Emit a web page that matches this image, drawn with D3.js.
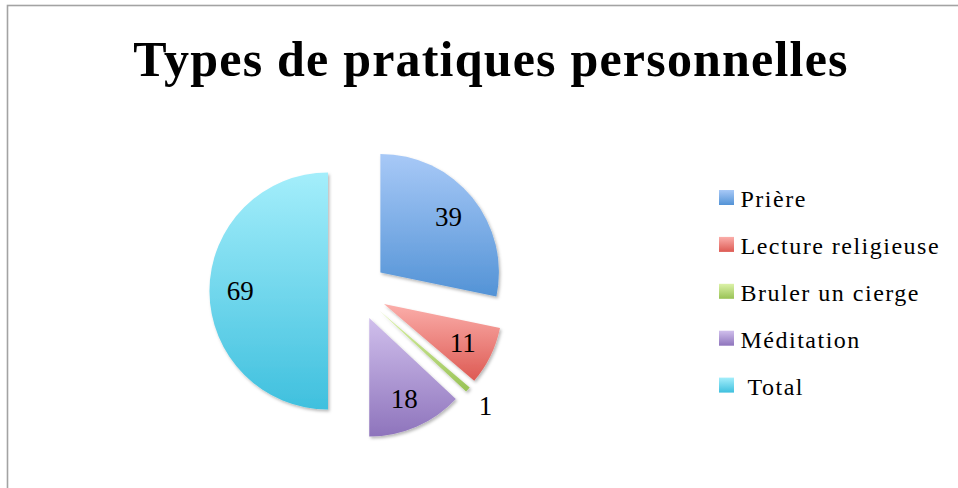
<!DOCTYPE html>
<html>
<head>
<meta charset="utf-8">
<script src="https://cdn.jsdelivr.net/npm/d3@7"></script>
<style>
  html, body { margin: 0; padding: 0; background: #fff; }
  svg { display: block; }
</style>
</head>
<body>
<div id="chart"></div>
<script>
const width = 958
const height = 488

// data
const categories = ['Prière', 'Lecture religieuse', 'Bruler un cierge', 'Méditation', ' Total']
const values = [39, 11, 1, 18, 69]
const title = 'Types de pratiques personnelles'

// gradient stops per slice, light on top, darker at the bottom
const colorsTop = ['#a8c9f7', '#fbaeaa', '#dcf2a8', '#d0bfec', '#a4eefb']
const colorsBottom = ['#5393d6', '#dd5a53', '#98c255', '#8e74bc', '#3fc0de']

const cx = 357.5
const cy = 291
const radius = 118.5
const explode = 29.5
const serif = '"Liberation Serif", "DejaVu Serif", serif'

const svg = d3
  .select('#chart')
  .append('svg')
  .attr('width', width)
  .attr('height', height)

const defs = svg.append('defs')

const grads = defs
  .selectAll('linearGradient')
  .data(values)
  .enter()
  .append('linearGradient')
  .attr('id', (d, i) => `grad_${i}`)
  .attr('x1', 0)
  .attr('y1', 0)
  .attr('x2', 0)
  .attr('y2', 1)
grads.append('stop').attr('offset', '0%').attr('stop-color', (d, i) => colorsTop[i])
grads.append('stop').attr('offset', '100%').attr('stop-color', (d, i) => colorsBottom[i])

const shadow = defs
  .append('filter')
  .attr('id', 'shadow')
  .attr('x', '-20%')
  .attr('y', '-20%')
  .attr('width', '140%')
  .attr('height', '140%')
shadow
  .append('feDropShadow')
  .attr('dx', 1.5)
  .attr('dy', 2)
  .attr('stdDeviation', 1.8)
  .attr('flood-color', '#000')
  .attr('flood-opacity', 0.28)

// chart frame (continues past the right and bottom edge)
svg
  .append('rect')
  .attr('x', 7.5)
  .attr('y', 5.5)
  .attr('width', width + 20)
  .attr('height', height + 20)
  .attr('fill', 'none')
  .attr('stroke', '#a3a3a3')
  .attr('stroke-width', 1.6)

svg
  .append('text')
  .attr('x', 491)
  .attr('y', 75.5)
  .attr('text-anchor', 'middle')
  .attr('font-family', serif)
  .attr('font-weight', 'bold')
  .attr('font-size', 50)
  .attr('letter-spacing', 1.2)
  .attr('fill', '#000')
  .text(title)

const pie = d3.pie().sort(null).value(d => d)
const arcs = pie(values)
const arc = d3.arc().innerRadius(0).outerRadius(radius)

const offset = d => {
  const a = (d.startAngle + d.endAngle) / 2
  return [Math.sin(a) * explode, -Math.cos(a) * explode]
}

const slices = svg
  .append('g')
  .attr('transform', `translate(${cx},${cy})`)
  .selectAll('g.slice')
  .data(arcs)
  .enter()
  .append('g')
  .attr('class', 'slice')
  .attr('transform', d => `translate(${offset(d)})`)

slices
  .append('path')
  .attr('d', arc)
  .attr('fill', (d, i) => `url(#grad_${i})`)
  .attr('filter', 'url(#shadow)')

// labels inside, tiny slices get theirs outside
slices
  .append('text')
  .attr('transform', d => {
    const a = (d.startAngle + d.endAngle) / 2
    const small = d.endAngle - d.startAngle < 0.15
    const r = small ? radius * 1.2 : radius * 0.74
    return `translate(${Math.sin(a) * r},${-Math.cos(a) * r})`
  })
  .attr('text-anchor', 'middle')
  .attr('dy', '0.35em')
  .attr('font-family', serif)
  .attr('font-size', 27)
  .attr('fill', '#000')
  .text(d => d.data)

// legend
const legend = svg
  .append('g')
  .attr('transform', 'translate(719,199)')

const rows = legend
  .selectAll('g.row')
  .data(categories)
  .enter()
  .append('g')
  .attr('class', 'row')
  .attr('transform', (d, i) => `translate(0,${i * 46.9})`)

rows
  .append('rect')
  .attr('x', 0)
  .attr('y', -9)
  .attr('width', 15)
  .attr('height', 15)
  .attr('fill', (d, i) => `url(#grad_${i})`)

rows
  .append('text')
  .attr('x', 21.5)
  .attr('dy', '0.35em')
  .attr('xml:space', 'preserve')
  .style('white-space', 'pre')
  .attr('font-family', serif)
  .attr('font-size', 24)
  .attr('letter-spacing', 1.5)
  .attr('fill', '#000')
  .text(d => d)
</script>
</body>
</html>
